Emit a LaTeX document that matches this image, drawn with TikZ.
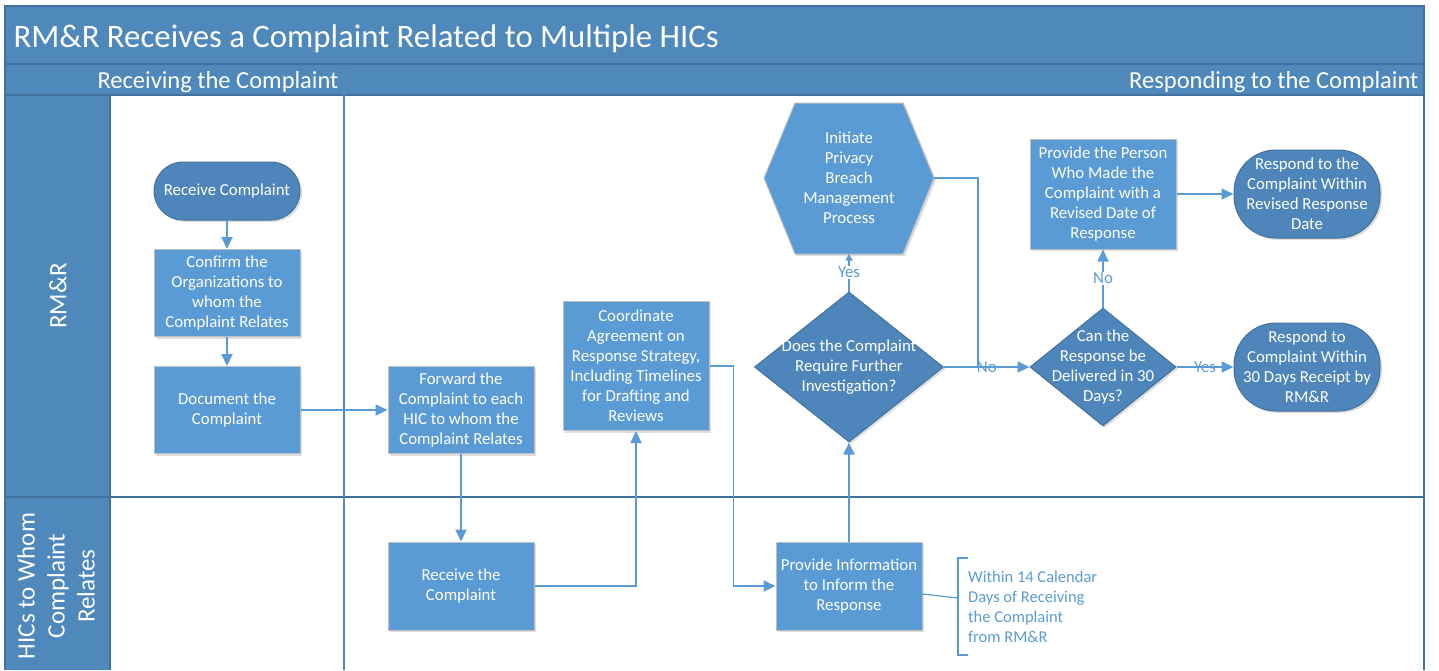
\documentclass[tikz,border=0pt]{standalone}
\usepackage{fontspec}
\setmainfont{Carlito}
\usetikzlibrary{arrows.meta,shapes.geometric,calc,shadows}
\definecolor{band}{HTML}{4F88BB}
\definecolor{bandline}{HTML}{41719C}
\definecolor{proc}{HTML}{5B9BD5}
\definecolor{dark}{HTML}{4E86BC}
\definecolor{procedge}{HTML}{BFBFBF}
\definecolor{flow}{HTML}{5B9BD5}
\begin{document}
\begin{tikzpicture}[x=1pt,y=-1pt,
  boxfont/.style={font=\fontsize{16.8}{20}\selectfont},
  softshadow/.style={drop shadow={shadow xshift=2pt,shadow yshift=-2pt,opacity=0.22,fill=black!60}},
  procbox/.style={rectangle,fill=proc,draw=procedge,line width=1pt,text=white,boxfont,
    align=center,minimum width=146pt,minimum height=87pt,inner sep=1pt,softshadow},
  termbox/.style={rectangle,fill=dark,draw=bandline,line width=1pt,text=white,boxfont,
    align=center,minimum width=146pt,inner sep=1pt,softshadow},
  decision/.style={diamond,fill=dark,draw=bandline,line width=1pt,inner sep=0pt,softshadow},
  flowline/.style={draw=flow,line width=1.8pt,-{Triangle[length=12pt,width=11pt]}},
  plainline/.style={draw=flow,line width=1.8pt},
  smalltip/.style={draw=flow,line width=1.8pt,-{Triangle[length=7pt,width=7pt]}},
  branch/.style={text=flow,boxfont,inner sep=1pt},
  headtext/.style={text=white,font=\fontsize{24.5}{28}\selectfont},
  lanetext/.style={text=white,font=\fontsize{25}{30}\selectfont,align=center,rotate=90}
]
\useasboundingbox (0,0) rectangle (1439,670);

% ---- pool frame, title band and phase headers ----
\fill[band] (5,6) rectangle (1424,95);
\fill[band] (5,95) rectangle (110,670);
\draw[bandline,line width=1.2pt] (5,64) -- (1424,64);
\draw[bandline,line width=1.2pt] (5,95) -- (1424,95);
\draw[bandline,line width=1.2pt] (110,95) -- (110,670);
\draw[bandline,line width=2pt] (5,497) -- (1424,497);
\draw[band,line width=1.5pt] (344,64) -- (344,670);
\draw[bandline,line width=1.5pt] (5,670) -- (5,6) -- (1424,6) -- (1424,670);

\node[text=white,font=\fontsize{32.8}{36}\selectfont,anchor=west] (title) at (10,39)
  {RM\&R Receives a Complaint Related to Multiple HICs};
\node[headtext,anchor=east] (ph1) at (342,82) {Receiving the Complaint};
\node[headtext,anchor=east] (ph2) at (1422,82) {Responding to the Complaint};
\node[lanetext] (lane1) at (58,296) {RM\&R};
\node[lanetext] (lane2) at (56,586) {HICs to Whom\\Complaint\\Relates};

% ---- process steps ----
\node[termbox,minimum height=58pt,rounded corners=29pt] (rc) at (227,191) {Receive Complaint};
\node[procbox] (conf) at (227,293) {Confirm the\\Organizations to\\whom the\\Complaint Relates};
\node[procbox] (doc) at (227,410) {Document the\\Complaint};
\node[procbox] (fwd) at (461,410) {Forward the\\Complaint to each\\HIC to whom the\\Complaint Relates};
\node[procbox,minimum height=88pt] (rcv) at (461,586) {Receive the\\Complaint};
\node[procbox,minimum height=129pt] (coord) at (636,366)
  {Coordinate\\Agreement on\\Response Strategy,\\Including Timelines\\for Drafting and\\Reviews};
\node[procbox,minimum height=88pt] (info) at (849,586) {Provide Information\\to Inform the\\Response};

\node[decision,minimum width=189pt,minimum height=150pt,
  label={[text=white,boxfont,align=center]center:Does the Complaint\\Require Further\\Investigation?}] (q1) at (849,367) {};

% hexagon drawn as a path, its text node on top
\fill[black!60,opacity=0.22] (766,180) -- (797,105) -- (905,105) -- (936,180) -- (905,256) -- (797,256) -- cycle;
\filldraw[fill=proc,draw=procedge,line width=1pt] (764,178) -- (795,103) -- (903,103) -- (934,178) -- (903,254) -- (795,254) -- cycle;
\node[text=white,boxfont,align=center,minimum width=170pt,minimum height=151pt,inner sep=0pt] (hex) at (849,178)
  {Initiate\\Privacy\\Breach\\Management\\Process};

\node[decision,minimum width=146pt,minimum height=118pt,
  label={[text=white,boxfont,align=center]center:Can the\\Response be\\Delivered in 30\\Days?}] (q2) at (1103,367) {};
\node[procbox,minimum height=110pt] (pp) at (1103,194)
  {Provide the Person\\Who Made the\\Complaint with a\\Revised Date of\\Response};
\node[termbox,minimum height=88pt,rounded corners=42pt] (rrev) at (1307,194)
  {Respond to the\\Complaint Within\\Revised Response\\Date};
\node[termbox,minimum height=88pt,rounded corners=42pt] (r30) at (1307,367)
  {Respond to\\Complaint Within\\30 Days Receipt by\\RM\&R};

% ---- connectors ----
\draw[flowline] (rc) -- (conf);
\draw[flowline] (conf) -- (doc);
\draw[flowline] (doc) -- (fwd);
\draw[flowline] (fwd) -- (rcv);
\draw[flowline] (rcv.east) -| (coord.south);
\draw[flowline] (coord.east) -- ++(24,0) |- (info.west);
\draw[flowline] (info) -- (q1);
\draw[smalltip] (q1) -- node[branch,fill=white] {Yes} (hex);
\draw[flowline] (q1) -- node[branch] {No} (q2);
\draw[plainline] (hex.east) -| ($(q1.east)+(34,0)$);
\draw[flowline] (q2) -- node[branch,fill=white] {No} (pp);
\draw[flowline] (q2) -- node[branch] {Yes} (r30);
\draw[flowline] (pp) -- (rrev);

% ---- annotation ----
\coordinate (brk) at (958,598);
\draw[flow,line width=1.2pt] ([yshift=-8pt]info.east) -- (brk);
\draw[flow,line width=1.2pt] (968,558) -- (958,558) -- (958,655) -- (968,655);
\node[text=flow,font=\fontsize{16.5}{20}\selectfont,align=left,anchor=west,inner sep=0pt] (note) at (968,607)
  {Within 14 Calendar\\Days of Receiving\\the Complaint\\from RM\&R};
\end{tikzpicture}
\end{document}
